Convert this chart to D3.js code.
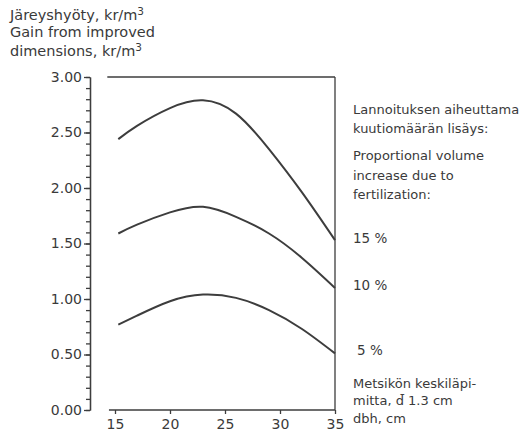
<!DOCTYPE html>
<html>
<head>
<meta charset="utf-8">
<script src="https://cdn.jsdelivr.net/npm/d3@7"></script>
<style>
  body { margin: 0; background: #fff; }
  svg text { font-family: "DejaVu Sans", sans-serif; fill: #3a3a3a; }
</style>
</head>
<body>
<svg id="chart"></svg>
<script>
// stand diameter (cm) and gain (kr/m3)
let dbh = [15.3, 17, 20, 23, 26, 29, 32, 35];
let gain15 = [2.44, 2.56, 2.72, 2.79, 2.67, 2.35, 1.96, 1.53];
let gain10 = [1.59, 1.67, 1.78, 1.83, 1.74, 1.59, 1.37, 1.10];
let gain5 = [0.77, 0.85, 0.98, 1.04, 1.01, 0.90, 0.73, 0.51];
let seriesLabels = ["15 %", "10 %", "5 %"];
let xTicks = [15, 20, 25, 30, 35];
let yTicks = [0, 0.5, 1, 1.5, 2, 2.5, 3];
let yMinorTicks = d3.range(0, 31).map((i) => i / 10);

let w = 530;
let h = 433;
let ink = "#3d3d3d";

let svg = d3.select("#chart").attr("width", w).attr("height", h);

let xScale = d3.scaleLinear().domain([15, 35]).range([115, 335]);
let yScale = d3.scaleLinear().domain([0, 3]).range([410, 77]);

// y axis: minor ticks then major ticks with labels
let yMinor = d3.axisLeft(yScale).tickValues(yMinorTicks).tickSize(4).tickSizeOuter(0).tickFormat("");
let yAxis = d3.axisLeft(yScale).tickValues(yTicks).tickSize(6).tickSizeOuter(0).tickPadding(2).tickFormat(d3.format(".2f"));

let gy = svg.append("g").attr("transform", "translate(90,0)");
gy.append("g").call(yMinor);
gy.append("g").call(yAxis);
gy.selectAll("path, line").attr("stroke", ink).attr("stroke-width", 1.3);
gy.selectAll("text").style("font-size", "14px").attr("fill", ink);

// x axis
let xAxis = d3.axisBottom(xScale).tickValues(xTicks).tickSize(4).tickSizeOuter(0).tickPadding(5);
let gx = svg.append("g").attr("transform", "translate(0,410)").call(xAxis);
gx.select(".domain").remove();
gx.selectAll("line").attr("stroke", ink).attr("stroke-width", 1.3);
gx.selectAll("text").style("font-size", "14px").attr("fill", ink);
svg.append("line")
  .attr("x1", xScale(14.45)).attr("x2", xScale(35))
  .attr("y1", yScale(0)).attr("y2", yScale(0))
  .attr("stroke", ink).attr("stroke-width", 1.3);

// frame: top and right
svg.append("line")
  .attr("x1", xScale(14.3)).attr("x2", xScale(35))
  .attr("y1", yScale(3)).attr("y2", yScale(3))
  .attr("stroke", ink).attr("stroke-width", 1.3);
svg.append("line")
  .attr("x1", xScale(35)).attr("x2", xScale(35))
  .attr("y1", yScale(3)).attr("y2", yScale(0))
  .attr("stroke", ink).attr("stroke-width", 1.3);

// curves
let line = d3.line()
  .x((d) => xScale(d[0]))
  .y((d) => yScale(d[1]))
  .curve(d3.curveNatural);

[gain15, gain10, gain5].forEach((vals) => {
  svg.append("path")
    .datum(dbh.map((d, i) => [d, vals[i]]))
    .attr("d", line)
    .attr("fill", "none")
    .attr("stroke", ink)
    .attr("stroke-width", 2);
});

// series labels at the right
svg.selectAll(".slab")
  .data(seriesLabels)
  .enter()
  .append("text")
  .attr("class", "slab")
  .attr("x", (d, i) => (i == 2 ? 357 : 353))
  .attr("y", (d, i) => [243, 290, 355][i])
  .style("font-size", "13.5px")
  .text((d) => d);

// titles
let title = svg.append("text").attr("x", 10).attr("y", 20).style("font-size", "14.5px");
title.append("tspan").text("Järeyshyöty, kr/m");
title.append("tspan").attr("dy", -5).style("font-size", "10.5px").text("3");
svg.append("text").attr("x", 10).attr("y", 37).style("font-size", "14.5px").text("Gain from improved");
let title3 = svg.append("text").attr("x", 10).attr("y", 56).style("font-size", "14.5px");
title3.append("tspan").text("dimensions, kr/m");
title3.append("tspan").attr("dy", -5).style("font-size", "10.5px").text("3");

let rightText = [
  ["Lannoituksen aiheuttama", 114],
  ["kuutiomäärän lisäys:", 133],
  ["Proportional volume", 160],
  ["increase due to", 180],
  ["fertilization:", 199],
  ["Metsikön keskiläpi-", 388],
  ["mitta, d\u0304 1.3 cm", 405],
  ["dbh, cm", 423]
];
svg.selectAll(".rt")
  .data(rightText)
  .enter()
  .append("text")
  .attr("class", "rt")
  .attr("x", 353)
  .attr("y", (d) => d[1])
  .style("font-size", "13px")
  .text((d) => d[0]);
</script>
</body>
</html>
